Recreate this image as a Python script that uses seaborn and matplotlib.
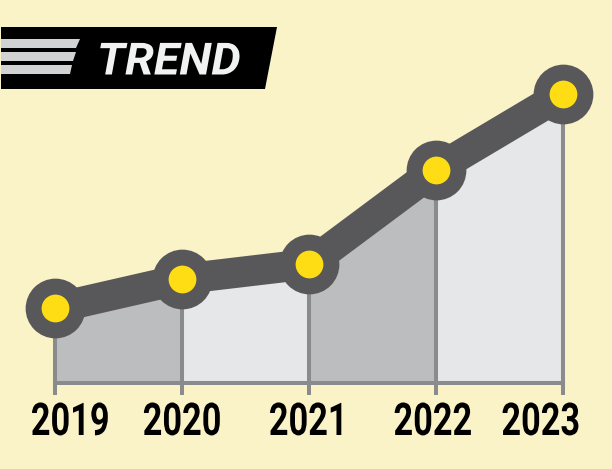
import matplotlib
matplotlib.use('Agg')
import matplotlib.pyplot as plt
from matplotlib.patches import Polygon
from matplotlib.patheffects import AbstractPathEffect
from matplotlib.transforms import Affine2D
import pandas as pd
import seaborn as sns

years = [2019, 2020, 2021, 2022, 2023]
values = [74.5, 103.5, 118.5, 213, 288.5]
shade_colors = ['#bcbdbf', '#e6e7e8', '#bcbdbf', '#e6e7e8']
label_shift_px = [15, 0, 0, -3, -22]

BG = '#fbf3c8'
LINE = '#58585a'
GREY = '#8a8b8d'
YELLOW = '#ffdd15'
W, H = 612, 469
BASE = 382.5
PX_PER_YEAR = 126.9


# no condensed face installed, so squeeze the glyphs sideways around their centre
class Squeeze(AbstractPathEffect):
    def __init__(self, sx):
        super().__init__()
        self.sx = sx

    def draw_path(self, renderer, gc, tpath, affine, rgbFace=None):
        box = tpath.get_extents()
        cx = (box.x0 + box.x1) / 2
        tr = Affine2D().translate(-cx, 0).scale(self.sx, 1).translate(cx, 0)
        renderer.draw_path(gc, tpath, tr + affine, rgbFace)


sns.set_theme(style='white', rc={'figure.facecolor': BG, 'axes.facecolor': 'none'})
plt.rcParams['font.family'] = ['Roboto', 'DejaVu Sans']

df = pd.DataFrame({'year': years, 'value': values})

fig = plt.figure(figsize=(W / 100, H / 100), dpi=100)
ax = fig.add_axes([0, (H - BASE) / H, 1, BASE / H])
ax.set_xlim(2019 - 55.3 / PX_PER_YEAR, 2019 + (W - 55.3) / PX_PER_YEAR)
ax.set_ylim(0, BASE)

# alternating bands under the line
for i, c in enumerate(shade_colors):
    ax.fill_between(years[i:i + 2], values[i:i + 2], 0, color=c, lw=0, zorder=1)
ax.vlines(years, 0, values, color=GREY, lw=2.9, zorder=2)

sns.lineplot(data=df, x='year', y='value', ax=ax, color=LINE, lw=22, zorder=3,
             solid_capstyle='butt')
sns.scatterplot(data=df, x='year', y='value', ax=ax, s=1850, color=LINE, lw=0,
                zorder=4, clip_on=False)
sns.scatterplot(data=df, x='year', y='value', ax=ax, s=400, color=YELLOW, lw=0,
                zorder=5, clip_on=False)

ax.set_xlabel('')
ax.set_ylabel('')
ax.set_yticks([])
ax.set_xticks(years)
ax.set_xticklabels([])
ax.tick_params(axis='x', length=8.3, width=2.9, color=GREY, bottom=True)
sns.despine(ax=ax, left=True)
ax.spines['bottom'].set_visible(True)
ax.spines['bottom'].set_color(GREY)
ax.spines['bottom'].set_linewidth(2.9)
ax.spines['bottom'].set_bounds(years[0], years[-1])

# year labels do not all sit centred on their tick
for yr, dx in zip(years, label_shift_px):
    ax.annotate(str(yr), (yr, 0), xycoords=ax.get_xaxis_transform(),
                xytext=(dx * 0.72, -37.8), textcoords='offset points',
                ha='center', va='baseline', fontsize=32.5, fontweight='bold',
                color='black', annotation_clip=False, path_effects=[Squeeze(0.76)])


# header banner, given in pixels from the top left
def px_poly(pts, color):
    fig.add_artist(Polygon([(x / W, 1 - y / H) for x, y in pts], closed=True,
                           transform=fig.transFigure, fc=color, ec='none'))


px_poly([(1, 27), (277, 27), (265, 89), (1, 89)], '#000000')
px_poly([(1, 39), (80, 39), (76, 48), (1, 48)], '#d1d2d4')
px_poly([(1, 52), (76, 52), (73, 61), (1, 61)], '#d1d2d4')
px_poly([(1, 65), (72, 65), (70, 74), (1, 74)], '#d1d2d4')
fig.text(169 / W, 1 - 74.5 / H, 'TREND', color='#f1f2f2', fontsize=32, fontweight='bold',
         fontstyle='italic', ha='center', va='baseline', path_effects=[Squeeze(1.05)])

fig.savefig('out.png', dpi=100, facecolor=BG)
